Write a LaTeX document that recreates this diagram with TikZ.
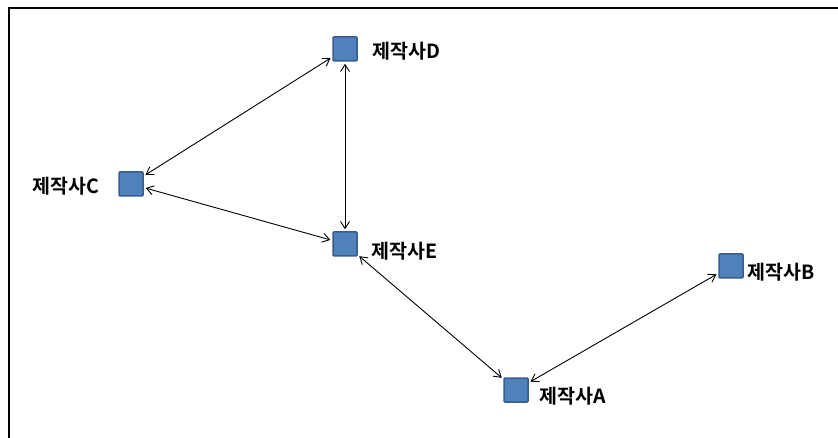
\documentclass[tikz,border=0pt]{standalone}
\usepackage{fontspec}
\newfontfamily\kr{Noto Sans CJK KR Bold}
\usetikzlibrary{arrows.meta}
\definecolor{boxfill}{HTML}{4F81BD}
\definecolor{boxline}{HTML}{385D8A}
\tikzset{
  firm/.style={rectangle, minimum size=24pt, inner sep=0pt, fill=boxfill, draw=boxline, line width=1.5pt, rounded corners=1pt},
  tag/.style={inner sep=0pt, font=\kr\fontsize{19.5}{19.5}\selectfont},
  link/.style={black, line width=0.9pt, {Straight Barb[length=7pt,width=9pt]}-{Straight Barb[length=7pt,width=9pt]}, shorten <=2pt, shorten >=2pt}
}
\begin{document}
\begin{tikzpicture}[x=1pt,y=-1pt]
\useasboundingbox (0,0) rectangle (838,438);
\fill[white] (0,0) rectangle (838,438);
\coordinate (tl) at (9,8);
\coordinate (tr) at (838,8);
\coordinate (bl) at (9,438);
\draw[line width=1.6pt] (tr) -- (tl) -- (bl);
\node[firm] (D) at (345,49) {};
\node[firm] (C) at (131,184) {};
\node[firm] (E) at (345,244) {};
\node[firm] (A) at (516,390) {};
\node[firm] (B) at (731,266) {};
\node[tag, anchor=west] (lD) at (372,51) {제작사D};
\node[tag, anchor=east] (lC) at (99,186) {제작사C};
\node[tag, anchor=west] (lE) at (371,251) {제작사E};
\node[tag, anchor=west] (lA) at (539,396) {제작사A};
\node[tag, anchor=west] (lB) at (747,272) {제작사B};
\draw[link] (D) -- (C);
\draw[link] (D) -- (E);
\draw[link] (C) -- (E);
\draw[link] (E) -- (A);
\draw[link] (A) -- (B);
\end{tikzpicture}
\end{document}
